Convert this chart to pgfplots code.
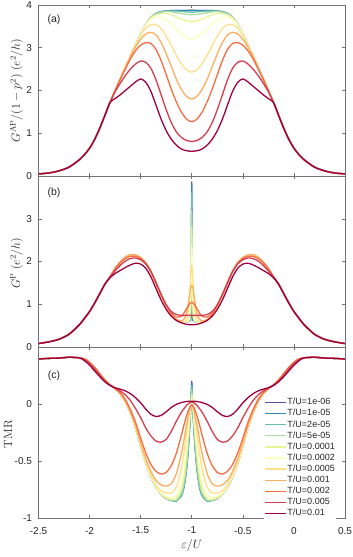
\documentclass[border=0pt]{standalone}
\usepackage[no-math]{fontspec}
\setmainfont{Liberation Sans}
\usepackage{pgfplots}
\usepackage{pgfplotstable}
\pgfplotsset{compat=1.18}
\definecolor{s1}{HTML}{5E4FA2}
\definecolor{s2}{HTML}{3288BD}
\definecolor{s3}{HTML}{66C2A5}
\definecolor{s4}{HTML}{ABDDA4}
\definecolor{s5}{HTML}{E6F598}
\definecolor{s6}{HTML}{FFFFBF}
\definecolor{s7}{HTML}{FEE08B}
\definecolor{s8}{HTML}{FDAE61}
\definecolor{s9}{HTML}{F46D43}
\definecolor{s10}{HTML}{D53E4F}
\definecolor{s11}{HTML}{9E0142}

\pgfplotstableread{
x c1 c2 c3 c4 c5 c6 c7 c8 c9 c10 c11
-2.5 0.05 0.05 0.05 0.05 0.05 0.05 0.05 0.05 0.05 0.05 0.05
-2.4 0.07 0.07 0.07 0.07 0.07 0.07 0.07 0.07 0.07 0.07 0.07
-2.3 0.12 0.12 0.12 0.12 0.12 0.12 0.12 0.12 0.12 0.12 0.12
-2.2 0.21 0.21 0.21 0.21 0.21 0.21 0.21 0.21 0.21 0.21 0.21
-2.1 0.38 0.38 0.38 0.38 0.38 0.38 0.38 0.38 0.38 0.38 0.38
-2.05 0.50 0.50 0.50 0.50 0.50 0.50 0.50 0.50 0.50 0.50 0.50
-2.0 0.65 0.65 0.65 0.65 0.65 0.65 0.65 0.65 0.65 0.65 0.65
-1.95 0.86 0.86 0.86 0.86 0.86 0.86 0.86 0.86 0.86 0.86 0.86
-1.9 1.12 1.12 1.12 1.12 1.12 1.12 1.12 1.12 1.12 1.12 1.12
-1.85 1.42 1.42 1.42 1.42 1.42 1.42 1.42 1.42 1.42 1.42 1.42
-1.8 1.72 1.72 1.72 1.72 1.72 1.72 1.72 1.72 1.72 1.72 1.72
-1.75 2.00 2.00 2.00 2.00 2.00 2.00 2.00 2.00 2.00 1.97 1.81
-1.7 2.27 2.27 2.27 2.27 2.27 2.27 2.27 2.27 2.26 2.17 1.90
-1.65 2.54 2.54 2.54 2.54 2.54 2.54 2.54 2.54 2.50 2.35 2.00
-1.6 2.81 2.81 2.81 2.81 2.81 2.81 2.81 2.79 2.74 2.50 2.10
-1.55 3.07 3.07 3.07 3.07 3.07 3.07 3.06 3.02 2.93 2.62 2.20
-1.5 3.32 3.32 3.32 3.32 3.32 3.32 3.29 3.20 3.06 2.69 2.27
-1.45 3.55 3.55 3.55 3.55 3.55 3.54 3.46 3.32 3.12 2.66 2.19
-1.4 3.71 3.71 3.71 3.71 3.70 3.67 3.54 3.36 3.10 2.52 1.98
-1.35 3.80 3.80 3.80 3.79 3.77 3.72 3.54 3.30 2.96 2.25 1.66
-1.3 3.84 3.84 3.84 3.83 3.80 3.71 3.45 3.12 2.70 1.90 1.33
-1.25 3.86 3.86 3.86 3.85 3.80 3.65 3.27 2.86 2.37 1.55 1.06
-1.2 3.87 3.87 3.86 3.84 3.77 3.56 3.05 2.56 2.03 1.25 0.86
-1.15 3.87 3.87 3.86 3.82 3.72 3.44 2.82 2.26 1.73 1.03 0.72
-1.1 3.87 3.87 3.85 3.80 3.67 3.33 2.62 2.02 1.49 0.90 0.63
-1.05 3.87 3.87 3.84 3.78 3.63 3.24 2.48 1.86 1.33 0.83 0.59
-1.0 3.88 3.87 3.83 3.77 3.61 3.21 2.43 1.80 1.27 0.81 0.58
-0.95 3.87 3.87 3.84 3.78 3.63 3.24 2.48 1.86 1.33 0.83 0.59
-0.9 3.87 3.87 3.85 3.80 3.67 3.33 2.62 2.02 1.49 0.90 0.63
-0.85 3.87 3.87 3.86 3.82 3.72 3.44 2.82 2.26 1.73 1.03 0.72
-0.8 3.87 3.87 3.86 3.84 3.77 3.56 3.05 2.56 2.03 1.25 0.86
-0.75 3.86 3.86 3.86 3.85 3.80 3.65 3.27 2.86 2.37 1.55 1.06
-0.7 3.84 3.84 3.84 3.83 3.80 3.71 3.45 3.12 2.70 1.90 1.33
-0.65 3.80 3.80 3.80 3.79 3.77 3.72 3.54 3.30 2.96 2.25 1.66
-0.6 3.71 3.71 3.71 3.71 3.70 3.67 3.54 3.36 3.10 2.52 1.98
-0.55 3.55 3.55 3.55 3.55 3.55 3.54 3.46 3.32 3.12 2.66 2.19
-0.5 3.32 3.32 3.32 3.32 3.32 3.32 3.29 3.20 3.06 2.69 2.27
-0.45 3.07 3.07 3.07 3.07 3.07 3.07 3.06 3.02 2.93 2.62 2.20
-0.4 2.81 2.81 2.81 2.81 2.81 2.81 2.81 2.79 2.74 2.50 2.10
-0.35 2.54 2.54 2.54 2.54 2.54 2.54 2.54 2.54 2.50 2.35 2.00
-0.3 2.27 2.27 2.27 2.27 2.27 2.27 2.27 2.27 2.26 2.17 1.90
-0.25 2.00 2.00 2.00 2.00 2.00 2.00 2.00 2.00 2.00 1.97 1.81
-0.2 1.72 1.72 1.72 1.72 1.72 1.72 1.72 1.72 1.72 1.72 1.72
-0.15 1.42 1.42 1.42 1.42 1.42 1.42 1.42 1.42 1.42 1.42 1.42
-0.1 1.12 1.12 1.12 1.12 1.12 1.12 1.12 1.12 1.12 1.12 1.12
-0.05 0.86 0.86 0.86 0.86 0.86 0.86 0.86 0.86 0.86 0.86 0.86
0.0 0.65 0.65 0.65 0.65 0.65 0.65 0.65 0.65 0.65 0.65 0.65
0.05 0.50 0.50 0.50 0.50 0.50 0.50 0.50 0.50 0.50 0.50 0.50
0.1 0.38 0.38 0.38 0.38 0.38 0.38 0.38 0.38 0.38 0.38 0.38
0.2 0.21 0.21 0.21 0.21 0.21 0.21 0.21 0.21 0.21 0.21 0.21
0.3 0.12 0.12 0.12 0.12 0.12 0.12 0.12 0.12 0.12 0.12 0.12
0.4 0.07 0.07 0.07 0.07 0.07 0.07 0.07 0.07 0.07 0.07 0.07
0.5 0.05 0.05 0.05 0.05 0.05 0.05 0.05 0.05 0.05 0.05 0.05
}\tabA

\pgfplotstableread{
x c1 c2 c3 c4 c5 c6 c7 c8 c9 c10 c11
-2.5 0.08 0.08 0.08 0.08 0.08 0.08 0.08 0.08 0.08 0.08 0.08
-2.4 0.12 0.12 0.12 0.12 0.12 0.12 0.12 0.12 0.12 0.12 0.12
-2.3 0.18 0.18 0.18 0.18 0.18 0.18 0.18 0.18 0.18 0.18 0.18
-2.2 0.30 0.30 0.30 0.30 0.30 0.30 0.30 0.30 0.30 0.30 0.30
-2.1 0.52 0.52 0.52 0.52 0.52 0.52 0.52 0.52 0.52 0.52 0.52
-2.05 0.67 0.67 0.67 0.67 0.67 0.67 0.67 0.67 0.67 0.67 0.67
-2.0 0.83 0.83 0.83 0.83 0.83 0.83 0.83 0.83 0.83 0.83 0.83
-1.95 1.03 1.03 1.03 1.03 1.03 1.03 1.03 1.03 1.03 1.03 1.03
-1.9 1.25 1.25 1.25 1.25 1.25 1.25 1.25 1.25 1.25 1.25 1.25
-1.85 1.47 1.47 1.47 1.47 1.47 1.47 1.47 1.47 1.47 1.47 1.47
-1.8 1.64 1.64 1.64 1.64 1.64 1.64 1.64 1.64 1.64 1.64 1.62
-1.75 1.84 1.84 1.84 1.84 1.84 1.84 1.84 1.84 1.83 1.78 1.72
-1.7 1.99 1.99 1.99 1.99 1.99 1.99 1.99 1.99 1.97 1.91 1.79
-1.65 2.10 2.10 2.10 2.10 2.10 2.10 2.10 2.10 2.07 2.01 1.86
-1.6 2.16 2.16 2.16 2.16 2.16 2.16 2.16 2.16 2.12 2.07 1.92
-1.55 2.15 2.15 2.15 2.15 2.15 2.15 2.15 2.15 2.12 2.08 1.96
-1.5 2.09 2.09 2.09 2.09 2.09 2.09 2.09 2.09 2.07 2.04 1.94
-1.45 1.97 1.97 1.97 1.97 1.97 1.97 1.97 1.97 1.96 1.94 1.84
-1.4 1.77 1.77 1.77 1.77 1.77 1.77 1.77 1.77 1.77 1.76 1.64
-1.35 1.50 1.50 1.50 1.50 1.50 1.50 1.50 1.50 1.51 1.50 1.37
-1.3 1.21 1.21 1.21 1.21 1.21 1.21 1.21 1.21 1.23 1.23 1.10
-1.25 0.96 0.96 0.96 0.96 0.96 0.96 0.96 0.96 0.98 0.99 0.88
-1.2 0.77 0.77 0.77 0.77 0.77 0.77 0.77 0.77 0.79 0.83 0.72
-1.15 0.64 0.64 0.64 0.64 0.64 0.64 0.64 0.64 0.70 0.76 0.62
-1.1 0.58 0.58 0.58 0.58 0.58 0.58 0.58 0.61 0.72 0.74 0.565
-1.075 0.58 0.58 0.58 0.58 0.58 0.58 0.59 0.65 0.80 0.74 0.545
-1.05 0.59 0.59 0.59 0.59 0.59 0.59 0.62 0.80 0.90 0.74 0.53
-1.03 0.60 0.60 0.60 0.60 0.61 0.63 0.85 1.08 0.98 0.74 0.524
-1.02 0.61 0.61 0.61 0.62 0.65 0.75 1.20 1.25 1.01 0.74 0.522
-1.01 0.63 0.66 0.70 0.80 1.00 1.35 1.68 1.39 1.03 0.74 0.52
-1.005 0.85 1.00 1.20 1.50 1.80 1.95 1.85 1.43 1.04 0.74 0.52
-1.0 3.86 3.80 3.60 3.20 2.80 2.35 1.91 1.44 1.045 0.74 0.52
-0.995 0.85 1.00 1.20 1.50 1.80 1.95 1.85 1.43 1.04 0.74 0.52
-0.99 0.63 0.66 0.70 0.80 1.00 1.35 1.68 1.39 1.03 0.74 0.52
-0.98 0.61 0.61 0.61 0.62 0.65 0.75 1.20 1.25 1.01 0.74 0.522
-0.97 0.60 0.60 0.60 0.60 0.61 0.63 0.85 1.08 0.98 0.74 0.524
-0.95 0.59 0.59 0.59 0.59 0.59 0.59 0.62 0.80 0.90 0.74 0.53
-0.925 0.58 0.58 0.58 0.58 0.58 0.58 0.59 0.65 0.80 0.74 0.545
-0.9 0.58 0.58 0.58 0.58 0.58 0.58 0.58 0.61 0.72 0.74 0.565
-0.85 0.64 0.64 0.64 0.64 0.64 0.64 0.64 0.64 0.70 0.76 0.62
-0.8 0.77 0.77 0.77 0.77 0.77 0.77 0.77 0.77 0.79 0.83 0.72
-0.75 0.96 0.96 0.96 0.96 0.96 0.96 0.96 0.96 0.98 0.99 0.88
-0.7 1.21 1.21 1.21 1.21 1.21 1.21 1.21 1.21 1.23 1.23 1.10
-0.65 1.50 1.50 1.50 1.50 1.50 1.50 1.50 1.50 1.51 1.50 1.37
-0.6 1.77 1.77 1.77 1.77 1.77 1.77 1.77 1.77 1.77 1.76 1.64
-0.55 1.97 1.97 1.97 1.97 1.97 1.97 1.97 1.97 1.96 1.94 1.84
-0.5 2.09 2.09 2.09 2.09 2.09 2.09 2.09 2.09 2.07 2.04 1.94
-0.45 2.15 2.15 2.15 2.15 2.15 2.15 2.15 2.15 2.12 2.08 1.96
-0.4 2.16 2.16 2.16 2.16 2.16 2.16 2.16 2.16 2.12 2.07 1.92
-0.35 2.10 2.10 2.10 2.10 2.10 2.10 2.10 2.10 2.07 2.01 1.86
-0.3 1.99 1.99 1.99 1.99 1.99 1.99 1.99 1.99 1.97 1.91 1.79
-0.25 1.84 1.84 1.84 1.84 1.84 1.84 1.84 1.84 1.83 1.78 1.72
-0.2 1.64 1.64 1.64 1.64 1.64 1.64 1.64 1.64 1.64 1.64 1.62
-0.15 1.47 1.47 1.47 1.47 1.47 1.47 1.47 1.47 1.47 1.47 1.47
-0.1 1.25 1.25 1.25 1.25 1.25 1.25 1.25 1.25 1.25 1.25 1.25
-0.05 1.03 1.03 1.03 1.03 1.03 1.03 1.03 1.03 1.03 1.03 1.03
0.0 0.83 0.83 0.83 0.83 0.83 0.83 0.83 0.83 0.83 0.83 0.83
0.05 0.67 0.67 0.67 0.67 0.67 0.67 0.67 0.67 0.67 0.67 0.67
0.1 0.52 0.52 0.52 0.52 0.52 0.52 0.52 0.52 0.52 0.52 0.52
0.2 0.30 0.30 0.30 0.30 0.30 0.30 0.30 0.30 0.30 0.30 0.30
0.3 0.18 0.18 0.18 0.18 0.18 0.18 0.18 0.18 0.18 0.18 0.18
0.4 0.12 0.12 0.12 0.12 0.12 0.12 0.12 0.12 0.12 0.12 0.12
0.5 0.08 0.08 0.08 0.08 0.08 0.08 0.08 0.08 0.08 0.08 0.08
}\tabB

\pgfplotstableread{
x c1 c2 c3 c4 c5 c6 c7 c8 c9 c10 c11
-2.5 0.395 0.395 0.395 0.395 0.395 0.395 0.395 0.395 0.395 0.395 0.395
-2.4 0.400 0.400 0.400 0.400 0.400 0.400 0.400 0.400 0.400 0.400 0.400
-2.3 0.403 0.403 0.403 0.403 0.403 0.403 0.403 0.403 0.403 0.403 0.403
-2.2 0.410 0.410 0.410 0.410 0.410 0.410 0.410 0.410 0.410 0.410 0.410
-2.1 0.405 0.405 0.405 0.405 0.405 0.405 0.405 0.405 0.405 0.405 0.405
-2.05 0.395 0.395 0.395 0.395 0.395 0.395 0.395 0.395 0.395 0.39 0.38
-2.0 0.365 0.365 0.365 0.365 0.365 0.365 0.365 0.365 0.365 0.355 0.34
-1.95 0.32 0.32 0.32 0.32 0.32 0.32 0.32 0.32 0.32 0.305 0.29
-1.9 0.265 0.265 0.265 0.265 0.265 0.265 0.265 0.265 0.265 0.25 0.24
-1.85 0.21 0.21 0.21 0.21 0.21 0.21 0.21 0.21 0.21 0.20 0.195
-1.8 0.168 0.168 0.168 0.168 0.168 0.168 0.168 0.168 0.168 0.165 0.162
-1.75 0.135 0.135 0.135 0.135 0.135 0.135 0.135 0.135 0.135 0.14 0.143
-1.7 0.09 0.09 0.09 0.09 0.09 0.09 0.09 0.09 0.10 0.115 0.13
-1.65 0.02 0.02 0.02 0.02 0.02 0.02 0.02 0.025 0.04 0.08 0.115
-1.6 -0.08 -0.08 -0.08 -0.08 -0.08 -0.08 -0.08 -0.07 -0.05 0.03 0.09
-1.55 -0.21 -0.21 -0.21 -0.21 -0.21 -0.21 -0.20 -0.19 -0.16 -0.04 0.055
-1.5 -0.37 -0.37 -0.37 -0.37 -0.37 -0.37 -0.36 -0.34 -0.30 -0.12 0.01
-1.45 -0.52 -0.52 -0.52 -0.52 -0.52 -0.52 -0.51 -0.48 -0.43 -0.21 -0.045
-1.4 -0.64 -0.64 -0.64 -0.64 -0.64 -0.635 -0.62 -0.59 -0.53 -0.28 -0.09
-1.35 -0.73 -0.73 -0.73 -0.73 -0.73 -0.72 -0.71 -0.67 -0.59 -0.325 -0.11
-1.3 -0.79 -0.79 -0.79 -0.79 -0.79 -0.78 -0.76 -0.71 -0.615 -0.335 -0.10
-1.25 -0.83 -0.83 -0.83 -0.83 -0.825 -0.81 -0.78 -0.72 -0.60 -0.31 -0.068
-1.2 -0.845 -0.845 -0.845 -0.845 -0.835 -0.82 -0.78 -0.70 -0.54 -0.24 -0.03
-1.15 -0.85 -0.85 -0.85 -0.845 -0.83 -0.80 -0.73 -0.61 -0.43 -0.15 -0.003
-1.1 -0.80 -0.80 -0.80 -0.78 -0.74 -0.68 -0.56 -0.43 -0.27 -0.07 0.013
-1.075 -0.72 -0.72 -0.72 -0.69 -0.63 -0.55 -0.42 -0.31 -0.18 -0.04 0.018
-1.05 -0.56 -0.56 -0.56 -0.52 -0.44 -0.35 -0.25 -0.18 -0.10 -0.01 0.022
-1.03 -0.34 -0.34 -0.34 -0.30 -0.24 -0.18 -0.12 -0.09 -0.05 0.005 0.024
-1.02 -0.19 -0.19 -0.19 -0.16 -0.12 -0.09 -0.06 -0.05 -0.03 0.01 0.025
-1.01 -0.04 -0.04 -0.04 -0.03 -0.02 -0.02 -0.02 -0.02 -0.015 0.013 0.025
-1.005 0.07 0.07 0.06 0.05 0.04 0.02 -0.005 -0.01 -0.01 0.015 0.025
-1.0 0.20 0.18 0.16 0.12 0.08 0.04 0.0 -0.01 -0.01 0.015 0.025
-0.995 0.07 0.07 0.06 0.05 0.04 0.02 -0.005 -0.01 -0.01 0.015 0.025
-0.99 -0.04 -0.04 -0.04 -0.03 -0.02 -0.02 -0.02 -0.02 -0.015 0.013 0.025
-0.98 -0.19 -0.19 -0.19 -0.16 -0.12 -0.09 -0.06 -0.05 -0.03 0.01 0.025
-0.97 -0.34 -0.34 -0.34 -0.30 -0.24 -0.18 -0.12 -0.09 -0.05 0.005 0.024
-0.95 -0.56 -0.56 -0.56 -0.52 -0.44 -0.35 -0.25 -0.18 -0.10 -0.01 0.022
-0.925 -0.72 -0.72 -0.72 -0.69 -0.63 -0.55 -0.42 -0.31 -0.18 -0.04 0.018
-0.9 -0.80 -0.80 -0.80 -0.78 -0.74 -0.68 -0.56 -0.43 -0.27 -0.07 0.013
-0.85 -0.85 -0.85 -0.85 -0.845 -0.83 -0.80 -0.73 -0.61 -0.43 -0.15 -0.003
-0.8 -0.845 -0.845 -0.845 -0.845 -0.835 -0.82 -0.78 -0.70 -0.54 -0.24 -0.03
-0.75 -0.83 -0.83 -0.83 -0.83 -0.825 -0.81 -0.78 -0.72 -0.60 -0.31 -0.068
-0.7 -0.79 -0.79 -0.79 -0.79 -0.79 -0.78 -0.76 -0.71 -0.615 -0.335 -0.10
-0.65 -0.73 -0.73 -0.73 -0.73 -0.73 -0.72 -0.71 -0.67 -0.59 -0.325 -0.11
-0.6 -0.64 -0.64 -0.64 -0.64 -0.64 -0.635 -0.62 -0.59 -0.53 -0.28 -0.09
-0.55 -0.52 -0.52 -0.52 -0.52 -0.52 -0.52 -0.51 -0.48 -0.43 -0.21 -0.045
-0.5 -0.37 -0.37 -0.37 -0.37 -0.37 -0.37 -0.36 -0.34 -0.30 -0.12 0.01
-0.45 -0.21 -0.21 -0.21 -0.21 -0.21 -0.21 -0.20 -0.19 -0.16 -0.04 0.055
-0.4 -0.08 -0.08 -0.08 -0.08 -0.08 -0.08 -0.08 -0.07 -0.05 0.03 0.09
-0.35 0.02 0.02 0.02 0.02 0.02 0.02 0.02 0.025 0.04 0.08 0.115
-0.3 0.09 0.09 0.09 0.09 0.09 0.09 0.09 0.09 0.10 0.115 0.13
-0.25 0.135 0.135 0.135 0.135 0.135 0.135 0.135 0.135 0.135 0.14 0.143
-0.2 0.168 0.168 0.168 0.168 0.168 0.168 0.168 0.168 0.168 0.165 0.162
-0.15 0.21 0.21 0.21 0.21 0.21 0.21 0.21 0.21 0.21 0.20 0.195
-0.1 0.265 0.265 0.265 0.265 0.265 0.265 0.265 0.265 0.265 0.25 0.24
-0.05 0.32 0.32 0.32 0.32 0.32 0.32 0.32 0.32 0.32 0.305 0.29
0.0 0.365 0.365 0.365 0.365 0.365 0.365 0.365 0.365 0.365 0.355 0.34
0.05 0.395 0.395 0.395 0.395 0.395 0.395 0.395 0.395 0.395 0.39 0.38
0.1 0.405 0.405 0.405 0.405 0.405 0.405 0.405 0.405 0.405 0.405 0.405
0.2 0.410 0.410 0.410 0.410 0.410 0.410 0.410 0.410 0.410 0.410 0.410
0.3 0.403 0.403 0.403 0.403 0.403 0.403 0.403 0.403 0.403 0.403 0.403
0.4 0.400 0.400 0.400 0.400 0.400 0.400 0.400 0.400 0.400 0.400 0.400
0.5 0.395 0.395 0.395 0.395 0.395 0.395 0.395 0.395 0.395 0.395 0.395
}\tabC

\tikzset{plab/.style={font=\fontsize{10.5}{12}\selectfont, text=black!85}}
\pgfplotsset{
  panel/.style={
    scale only axis, width=306.5pt, height=171pt,
    anchor=south west,
    xmin=-2.5, xmax=0.5,
    xtick={-2.5,-2,-1.5,-1,-0.5,0,0.5},
    tick align=inside, tick pos=both,
    major tick length=3pt,
    axis line style={black!55, line width=0.5pt},
    every tick/.style={black!55, line width=0.5pt},
    tick label style={font=\fontsize{10}{12}\selectfont, text=black!85},
    yticklabel style={xshift=-3pt},
    xticklabel style={yshift=-5.5pt},
    label style={font=\fontsize{11.5}{13}\selectfont, text=black!85},
    ylabel style={inner sep=0pt},
    every axis plot/.append style={line width=1.3pt, line join=round},
  },
}

\begin{document}
\begin{tikzpicture}
% (a)
\begin{axis}[panel, at={(0pt,342pt)},
  ymin=0, ymax=4, ytick={0,1,2,3,4}, yticklabels={0,1,2,3,4},
  xticklabels={},
  ylabel={$G^{\mathrm{AP}}/(1-p^2)$ $(e^2/h)$},
  ylabel style={at={(ticklabel cs:0.5,0pt)}}]
\pgfplotsinvokeforeach{1,...,11}{\addplot[s#1, smooth, tension=0.5] table[x=x,y=c#1]{\tabA};}
\node[plab] at (axis cs:-2.348,3.66) {(a)};
\end{axis}
% (b)
\begin{axis}[panel, at={(0pt,171pt)},
  ymin=0, ymax=4, ytick={0,1,2,3}, yticklabels={0,1,2,3},
  xticklabels={},
  ylabel={$G^{\mathrm{P}}$ $(e^2/h)$},
  ylabel style={at={(ticklabel cs:0.49,0pt)}}]
\pgfplotsinvokeforeach{1,...,6}{\addplot[s#1] table[x=x,y=c#1]{\tabB};}
\pgfplotsinvokeforeach{7,...,11}{\addplot[s#1, smooth, tension=0.5] table[x=x,y=c#1]{\tabB};}
\node[plab] at (axis cs:-2.348,3.6) {(b)};
\end{axis}
% (c)
\begin{axis}[panel, at={(0pt,0pt)},
  ymin=-1, ymax=0.5, ytick={-1,-0.5,0}, yticklabels={-1,-0.5,0},
  xticklabels={-2.5,-2,-1.5,-1,-0.5,0,0.5},
  ylabel={$\mathrm{TMR}$},
  ylabel style={at={(ticklabel cs:0.49,-1pt)}},
  xlabel={$\varepsilon/U$},
  xlabel style={at={(axis description cs:0.5,0)}, anchor=center, yshift=-27pt},
  legend cell align=left,
  legend image code/.code={\draw[#1, line width=1.3pt] (0pt,0pt) -- (21pt,0pt);},
  legend style={at={(rel axis cs:0.7357,0.709)}, anchor=north west,
    draw=none, fill=white, inner sep=0pt, row sep=0pt,
    font=\fontsize{9}{11}\selectfont, text=black!85,
    nodes={inner sep=1pt, text height=6.9pt, text depth=2.2pt}}]
\pgfplotsinvokeforeach{1,...,11}{\addplot[s#1, smooth, tension=0.4] table[x=x,y=c#1]{\tabC};}
\legend{{T/U=1e-06},{T/U=1e-05},{T/U=2e-05},{T/U=5e-05},{T/U=0.0001},{T/U=0.0002},{T/U=0.0005},{T/U=0.001},{T/U=0.002},{T/U=0.005},{T/U=0.01}}
\node[plab] at (axis cs:-2.348,0.25) {(c)};
\end{axis}
\pgfresetboundingbox
\path[use as bounding box] (-38.5pt,-39pt) rectangle (314.5pt,518pt);
\end{tikzpicture}
\end{document}
